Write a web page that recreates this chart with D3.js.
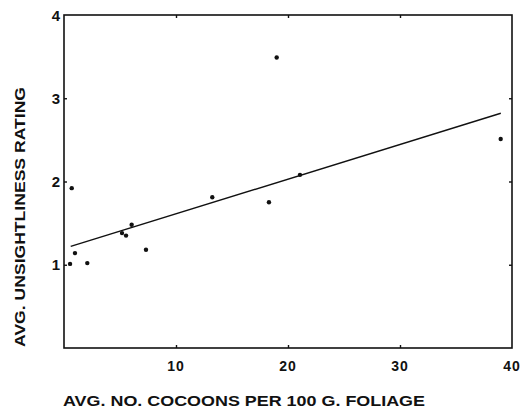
<!DOCTYPE html>
<html>
<head>
<meta charset="utf-8">
<script src="https://cdn.jsdelivr.net/npm/d3@7"></script>
<style>
  body { margin: 0; background: #fff; }
  text { font-family: "Liberation Sans", Arial, sans-serif; font-weight: bold; fill: #111; }
</style>
</head>
<body>
<div id="canvas"></div>
<script>
// cocoons per 100 g foliage vs. unsightliness rating
var cocoons = [0.54, 0.69, 0.98, 2.08, 5.18, 5.54, 6.04, 7.32, 13.24, 18.3, 18.99, 21.07, 38.99];
var rating  = [1.01, 1.92, 1.14, 1.02, 1.38, 1.35, 1.48, 1.18, 1.81, 1.75, 3.49, 2.08, 2.51];

// fitted line, two ends
var fitX = [0.6, 39];
var fitY = [1.22, 2.82];

var xTicks = [10, 20, 30, 40];
var yTicks = [1, 2, 3, 4];

var W = 523, H = 408;

var svg = d3.select('#canvas')
    .append('svg')
    .attr('width', W)
    .attr('height', H);

var x = d3.scaleLinear().domain([0, 40]).range([64, 512]);
var y = d3.scaleLinear().domain([0, 4]).range([348, 15]);

// frame
svg.append('rect')
    .attr('x', x(0)).attr('y', y(4))
    .attr('width', x(40) - x(0)).attr('height', y(0) - y(4))
    .style('fill', 'none').style('stroke', '#111').style('stroke-width', 1.6);

// inward ticks on all four sides
svg.append('g').attr('transform', 'translate(0,' + y(0) + ')')
    .call(d3.axisTop(x).tickValues([10, 20, 30]).tickSize(3).tickFormat(''))
    .call(function(g){ g.select('.domain').remove(); });
svg.append('g').attr('transform', 'translate(0,' + y(4) + ')')
    .call(d3.axisBottom(x).tickValues([10, 20, 30]).tickSize(3).tickFormat(''))
    .call(function(g){ g.select('.domain').remove(); });
svg.append('g').attr('transform', 'translate(' + x(0) + ',0)')
    .call(d3.axisRight(y).tickValues([1, 2, 3]).tickSize(3).tickFormat(''))
    .call(function(g){ g.select('.domain').remove(); });
svg.append('g').attr('transform', 'translate(' + x(40) + ',0)')
    .call(d3.axisLeft(y).tickValues([1, 2, 3]).tickSize(3).tickFormat(''))
    .call(function(g){ g.select('.domain').remove(); });
svg.selectAll('.tick line').style('stroke', '#111').style('stroke-width', 1.4);

// tick labels
svg.selectAll('.xlab')
    .data(xTicks).enter()
    .append('text').attr('class', 'xlab')
    .attr('x', function(d){ return x(d); })
    .attr('y', 371)
    .attr('text-anchor', 'middle')
    .style('font-size', '14px')
    .style('letter-spacing', '1px')
    .text(function(d){ return d; });

svg.selectAll('.ylab')
    .data(yTicks).enter()
    .append('text').attr('class', 'ylab')
    .attr('x', 60)
    .attr('y', function(d){ return y(d) + 5.5; })
    .attr('text-anchor', 'end')
    .style('font-size', '15px')
    .text(function(d){ return d; });

// axis titles
svg.append('text')
    .attr('x', 63).attr('y', 406)
    .attr('textLength', 362)
    .attr('lengthAdjust', 'spacingAndGlyphs')
    .style('font-size', '15px')
    .text('AVG. NO. COCOONS PER 100 G. FOLIAGE');

svg.append('text')
    .attr('transform', 'translate(25,347) rotate(-90)')
    .attr('textLength', 260)
    .attr('lengthAdjust', 'spacingAndGlyphs')
    .style('font-size', '15.5px')
    .text('AVG. UNSIGHTLINESS RATING');

// regression line
var line = d3.line()
    .x(function(d){ return x(d[0]); })
    .y(function(d){ return y(d[1]); });
svg.append('path')
    .datum(d3.zip(fitX, fitY))
    .attr('d', line)
    .style('fill', 'none').style('stroke', '#111').style('stroke-width', 1.4);

// points
svg.selectAll('.pt')
    .data(d3.zip(cocoons, rating)).enter()
    .append('circle').attr('class', 'pt')
    .attr('cx', function(d){ return x(d[0]); })
    .attr('cy', function(d){ return y(d[1]); })
    .attr('r', 2.2)
    .style('fill', '#111');
</script>
</body>
</html>
